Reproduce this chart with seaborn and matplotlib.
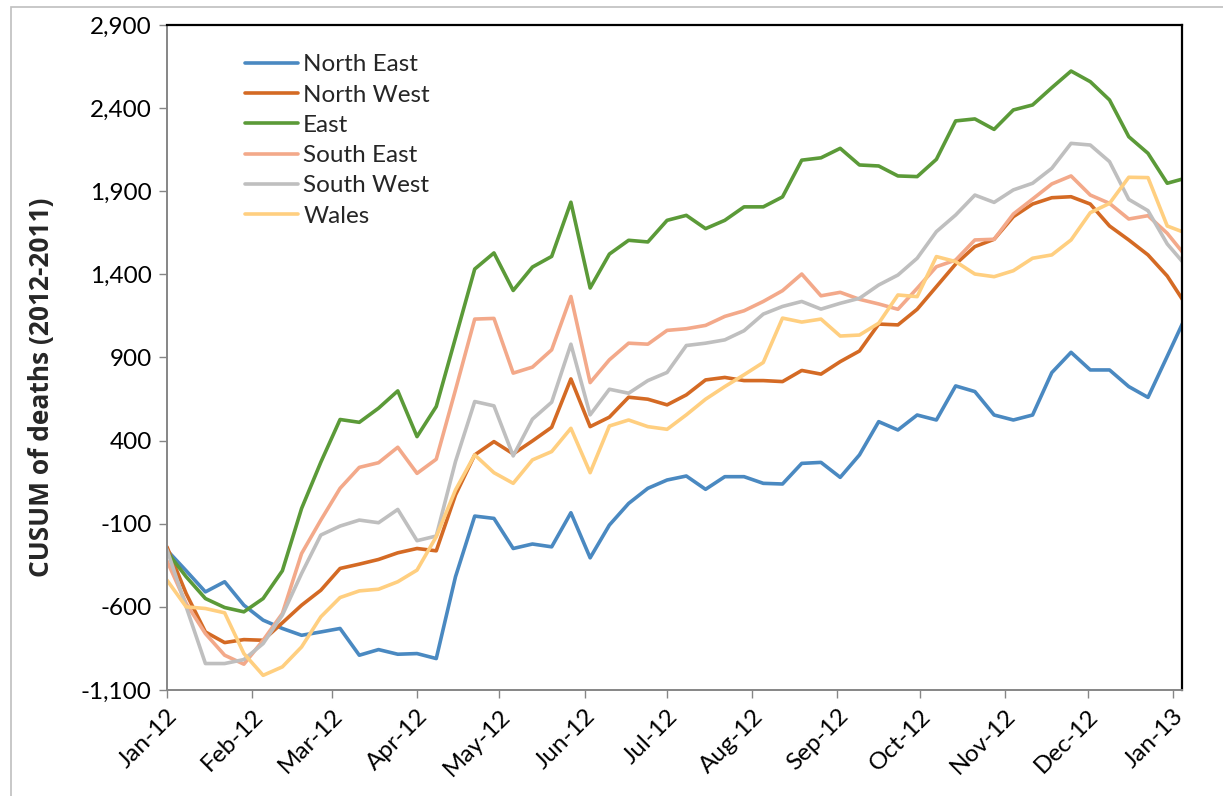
import pandas as pd
import seaborn as sns
import matplotlib.pyplot as plt
import matplotlib.dates as mdates
from matplotlib.ticker import FuncFormatter, FixedLocator
from matplotlib.patches import Rectangle

# Weekly CUSUM of deaths (2012 minus 2011), weeks starting Sun 1 Jan 2012
weeks = pd.date_range('2012-01-01', periods=54, freq='7D')

north_east = [-259, -383, -510, -449, -590, -680, -730, -771, -751, -730,
              -891, -857, -885, -881, -911, -419, -54, -68, -249, -222,
              -239, -34, -305, -108, 22, 113, 163, 187, 107, 183,
              183, 143, 139, 263, 269, 179, 314, 514, 464, 554,
              524, 729, 695, 554, 524, 554, 809, 931, 825, 825,
              725, 660, 907, 1156]
north_west = [-239, -520, -751, -815, -797, -801, -696, -590, -500, -369,
              -343, -315, -275, -249, -263, 73, 314, 394, 320, 398,
              480, 771, 484, 541, 661, 649, 615, 675, 765, 780,
              761, 761, 755, 822, 800, 875, 939, 1101, 1096, 1190,
              1326, 1462, 1567, 1611, 1747, 1823, 1861, 1867, 1823, 1691,
              1607, 1517, 1390, 1212]
east = [-269, -419, -550, -604, -630, -550, -383, -8, 270, 527,
        510, 595, 699, 424, 605, 1018, 1432, 1529, 1303, 1444,
        1508, 1834, 1318, 1522, 1605, 1595, 1725, 1755, 1675, 1725,
        1806, 1806, 1866, 2087, 2101, 2158, 2058, 2052, 1992, 1988,
        2092, 2323, 2335, 2272, 2389, 2419, 2523, 2623, 2559, 2449,
        2228, 2128, 1948, 1980]
south_east = [-323, -580, -761, -891, -945, -801, -640, -279, -78, 113,
              239, 267, 360, 203, 288, 705, 1131, 1135, 806, 842,
              946, 1267, 749, 886, 986, 980, 1063, 1073, 1093, 1147,
              1181, 1237, 1302, 1402, 1271, 1292, 1250, 1222, 1190, 1316,
              1446, 1486, 1607, 1611, 1763, 1853, 1944, 1992, 1877, 1827,
              1733, 1753, 1647, 1504]
south_west = [-255, -600, -941, -941, -917, -821, -650, -399, -168, -114,
              -78, -94, -14, -202, -174, 274, 635, 609, 308, 529,
              631, 980, 555, 709, 685, 761, 810, 972, 986, 1006,
              1061, 1161, 1207, 1237, 1191, 1226, 1256, 1336, 1396, 1497,
              1657, 1757, 1877, 1833, 1908, 1948, 2038, 2188, 2178, 2078,
              1851, 1783, 1583, 1448]
wales = [-439, -600, -610, -636, -881, -1012, -961, -841, -660, -544,
         -504, -494, -449, -379, -178, 103, 314, 207, 143, 284,
         334, 474, 207, 488, 524, 484, 468, 555, 649, 725,
         796, 870, 1137, 1113, 1131, 1029, 1035, 1106, 1276, 1266,
         1507, 1477, 1402, 1386, 1422, 1497, 1517, 1607, 1771, 1827,
         1984, 1982, 1691, 1647]

regions = ['North East', 'North West', 'East', 'South East', 'South West', 'Wales']
colors = ['#4A89C1', '#D46A24', '#5B9A38', '#F3A98A', '#BFBFBF', '#FFCF80']
y_ticks = [-1100, -600, -100, 400, 900, 1400, 1900, 2400, 2900]

df = pd.DataFrame({'week': weeks,
                   'North East': north_east,
                   'North West': north_west,
                   'East': east,
                   'South East': south_east,
                   'South West': south_west,
                   'Wales': wales})
df = df.melt(id_vars='week', var_name='region', value_name='cusum')

sns.set_style('white')
plt.rcParams['font.family'] = ['Lato', 'DejaVu Sans']

fig, ax = plt.subplots(figsize=(12.23, 7.96), dpi=100)
fig.subplots_adjust(left=0.1365, right=0.9662, top=0.9686, bottom=0.1332)

sns.lineplot(data=df, x='week', y='cusum', hue='region', hue_order=regions,
             palette=colors, linewidth=2.6, ax=ax)

# axes limits and ticks
ax.set_xlim(pd.Timestamp('2012-01-01'), pd.Timestamp('2013-01-04 06:00'))
ax.set_ylim(y_ticks[0], y_ticks[-1])
ax.yaxis.set_major_locator(FixedLocator(y_ticks))
ax.yaxis.set_major_formatter(FuncFormatter(lambda v, p: f'{v:,.0f}'))
ax.xaxis.set_major_locator(mdates.MonthLocator())
ax.xaxis.set_major_formatter(mdates.DateFormatter('%b-%y'))
ax.tick_params(axis='both', which='major', bottom=True, left=True,
               direction='out', length=6, width=1, color='#868686',
               labelsize=17.5, labelcolor='black', pad=5)
plt.setp(ax.get_xticklabels(), rotation=45, ha='right', rotation_mode='anchor')

ax.set_xlabel('')
ax.set_ylabel('CUSUM of deaths (2012-2011)', fontsize=19, fontweight='bold',
              family=['Open Sans', 'DejaVu Sans'])
ax.yaxis.set_label_coords(-0.11, 0.455)

# plot area border: grey axes, black frame
for side in ['left', 'bottom']:
    ax.spines[side].set_color('#868686')
    ax.spines[side].set_linewidth(1.4)
for side in ['top', 'right']:
    ax.spines[side].set_color('black')
    ax.spines[side].set_linewidth(1.6)

leg = ax.legend(loc='upper left', bbox_to_anchor=(0.0768, 0.956),
                frameon=False, fontsize=17.5, handlelength=2.2,
                handletextpad=0.2, labelspacing=0.38, borderpad=0,
                borderaxespad=0)

# outer chart border (only top/left edges fall inside the image)
fig.patches.append(Rectangle((11 / 1223, -0.1), 1.5, 1.1 - 7 / 796,
                             transform=fig.transFigure, fill=False,
                             edgecolor='#BFBFBF', linewidth=1.2))

fig.savefig('out.png', dpi=100)
